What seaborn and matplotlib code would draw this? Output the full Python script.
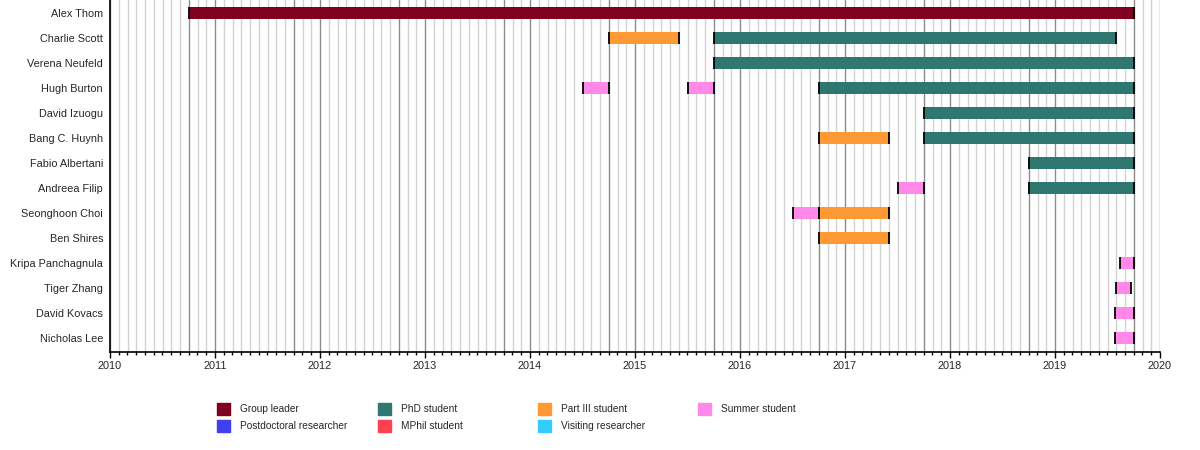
import numpy as np
import pandas as pd
import seaborn as sns
import matplotlib.pyplot as plt
from matplotlib.patches import Rectangle

# people, top to bottom
people = ['Alex Thom', 'Charlie Scott', 'Verena Neufeld', 'Hugh Burton', 'David Izuogu',
          'Bang C. Huynh', 'Fabio Albertani', 'Andreea Filip', 'Seonghoon Choi', 'Ben Shires',
          'Kripa Panchagnula', 'Tiger Zhang', 'David Kovacs', 'Nicholas Lee']

# one entry per bar (decimal years)
bar_person = ['Alex Thom',
              'Charlie Scott', 'Charlie Scott',
              'Verena Neufeld',
              'Hugh Burton', 'Hugh Burton', 'Hugh Burton',
              'David Izuogu',
              'Bang C. Huynh', 'Bang C. Huynh',
              'Fabio Albertani',
              'Andreea Filip', 'Andreea Filip',
              'Seonghoon Choi', 'Seonghoon Choi',
              'Ben Shires',
              'Kripa Panchagnula', 'Tiger Zhang', 'David Kovacs', 'Nicholas Lee']
bar_role = ['Group leader',
            'Part III student', 'PhD student',
            'PhD student',
            'Summer student', 'Summer student', 'PhD student',
            'PhD student',
            'Part III student', 'PhD student',
            'PhD student',
            'Summer student', 'PhD student',
            'Summer student', 'Part III student',
            'Part III student',
            'Summer student', 'Summer student', 'Summer student', 'Summer student']
bar_start = [2010.75,
             2014.75, 2015.75,
             2015.75,
             2014.5, 2015.5, 2016.75,
             2017.75,
             2016.75, 2017.75,
             2018.75,
             2017.5, 2018.75,
             2016.5, 2016.75,
             2016.75,
             2019.615, 2019.585, 2019.575, 2019.575]
bar_end = [2019.75,
           2015.42, 2019.58,
           2019.75,
           2014.75, 2015.75, 2019.75,
           2019.75,
           2017.42, 2019.75,
           2019.75,
           2017.75, 2019.75,
           2016.75, 2017.42,
           2017.42,
           2019.75, 2019.72, 2019.75, 2019.75]

roles = ['Group leader', 'Postdoctoral researcher', 'PhD student', 'MPhil student',
         'Part III student', 'Visiting researcher', 'Summer student']
role_colors = ['#800020', '#4040f0', '#2f7872', '#ff4050', '#ff9933', '#33ccff', '#ff88e8']

years = list(range(2010, 2021))

df = pd.DataFrame({'person': bar_person, 'role': bar_role,
                   'start': bar_start, 'end': bar_end})
df['row'] = df['person'].map({p: i for i, p in enumerate(people)})
palette = dict(zip(roles, role_colors))

sns.set_style('white')
plt.rcParams['font.family'] = ['Liberation Sans', 'DejaVu Sans']

fig = plt.figure(figsize=(12, 4.5), dpi=100)
ax = fig.add_axes([110 / 1200, 98 / 450, 1050 / 1200, 352 / 450])

# monthly grid, darker at year starts and at October
for y in years[:-1]:
    for m in range(12):
        xv = y + m / 12
        if m == 0 or m == 9:
            ax.axvline(xv, color='#8c8c8c', lw=1, zorder=1)
        elif xv > years[0]:
            ax.axvline(xv, color='#d2d2d2', lw=1, zorder=1)
ax.axvline(years[-1], color='#8c8c8c', lw=1, zorder=1)

h = 0.45
ax.barh(df['row'], df['end'] - df['start'], left=df['start'], height=h,
        color=df['role'].map(palette), zorder=2, linewidth=0)
ax.vlines(pd.concat([df['start'], df['end']]), pd.concat([df['row'], df['row']]) - h / 2,
          pd.concat([df['row'], df['row']]) + h / 2, color='black', lw=1.3, zorder=3)

ax.set_xlim(years[0], years[-1])
ax.set_ylim(13.56, -0.52)
ax.set_yticks(range(len(people)))
ax.set_yticklabels(people, fontsize=7.8)
ax.set_xticks(years)
ax.set_xticklabels([str(y) for y in years], fontsize=7.8)
ax.set_xticks(np.arange(years[0], years[-1], 1 / 12), minor=True)
ax.tick_params(axis='x', which='major', bottom=True, direction='out', length=4.5,
               width=1, pad=2, color='black')
ax.tick_params(axis='x', which='minor', bottom=True, direction='out', length=2.5,
               width=1, color='black')
ax.tick_params(axis='y', left=False, length=0, pad=5)
sns.despine(ax=ax, top=True, right=True)
for s in ['left', 'bottom']:
    ax.spines[s].set_color('black')
    ax.spines[s].set_linewidth(1.2)

# legend, filled column by column
cols_x = [217, 378, 538, 698]
rows_y = [409, 426]
for i, (r, c) in enumerate(zip(roles, role_colors)):
    cx = cols_x[i // 2]
    cy = rows_y[i % 2]
    fig.patches.append(Rectangle((cx / 1200, (450 - cy - 6) / 450), 13 / 1200, 12 / 450,
                                 transform=fig.transFigure, color=c))
    fig.text((cx + 23) / 1200, (450 - cy) / 450, r, fontsize=7.3, va='center', ha='left')

fig.savefig('out.png', dpi=100)
